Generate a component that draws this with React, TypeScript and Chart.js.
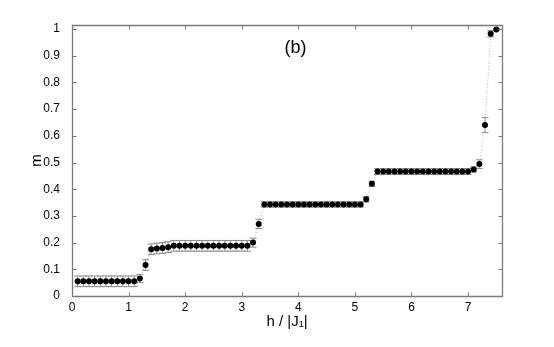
import React, { useEffect, useRef } from "react";
import { Chart, registerables } from "chart.js";

Chart.register(...registerables);

// h / |J1| values (x)
const hValues = [
  0.1, 0.2, 0.3, 0.4, 0.5, 0.6, 0.7, 0.8, 0.9, 1.0,
  1.1, 1.2, 1.3, 1.4, 1.5, 1.6, 1.7, 1.8, 1.9, 2.0,
  2.1, 2.2, 2.3, 2.4, 2.5, 2.6, 2.7, 2.8, 2.9, 3.0,
  3.1, 3.2, 3.3, 3.4, 3.5, 3.6, 3.7, 3.8, 3.9, 4.0,
  4.1, 4.2, 4.3, 4.4, 4.5, 4.6, 4.7, 4.8, 4.9, 5.0,
  5.1, 5.2, 5.3, 5.4, 5.5, 5.6, 5.7, 5.8, 5.9, 6.0,
  6.1, 6.2, 6.3, 6.4, 6.5, 6.6, 6.7, 6.8, 6.9, 7.0,
  7.1, 7.2, 7.3, 7.4, 7.5,
];

// magnetization m
const mValues = [
  0.055, 0.055, 0.055, 0.055, 0.055, 0.055, 0.055, 0.055, 0.055, 0.055,
  0.055, 0.066, 0.116, 0.175, 0.178, 0.180, 0.183, 0.188, 0.188, 0.188,
  0.188, 0.188, 0.188, 0.188, 0.188, 0.188, 0.188, 0.188, 0.188, 0.188,
  0.188, 0.200, 0.270, 0.343, 0.343, 0.343, 0.343, 0.343, 0.343, 0.343,
  0.343, 0.343, 0.343, 0.343, 0.343, 0.343, 0.343, 0.343, 0.343, 0.343,
  0.343, 0.362, 0.420, 0.466, 0.466, 0.466, 0.466, 0.466, 0.466, 0.466,
  0.466, 0.466, 0.466, 0.466, 0.466, 0.466, 0.466, 0.466, 0.466, 0.466,
  0.474, 0.494, 0.640, 0.982, 0.998,
];

// error bar half-heights
const mErrors = [
  0.02, 0.02, 0.02, 0.02, 0.02, 0.02, 0.02, 0.02, 0.02, 0.02,
  0.02, 0.015, 0.02, 0.02, 0.02, 0.02, 0.02, 0.02, 0.02, 0.02,
  0.02, 0.02, 0.02, 0.02, 0.02, 0.02, 0.02, 0.02, 0.02, 0.02,
  0.02, 0.017, 0.017, 0.01, 0.01, 0.01, 0.01, 0.01, 0.01, 0.01,
  0.01, 0.01, 0.01, 0.01, 0.01, 0.01, 0.01, 0.01, 0.01, 0.01,
  0.01, 0.01, 0.01, 0.011, 0.011, 0.011, 0.011, 0.011, 0.011, 0.011,
  0.011, 0.011, 0.011, 0.011, 0.011, 0.011, 0.011, 0.011, 0.011, 0.011,
  0.01, 0.016, 0.028, 0.012, 0.004,
];

const xTicks = [0, 1, 2, 3, 4, 5, 6, 7];
const yTicks = [0, 0.1, 0.2, 0.3, 0.4, 0.5, 0.6, 0.7, 0.8, 0.9, 1];
const yTickLabels = ["0", "0.1", "0.2", "0.3", "0.4", "0.5", "0.6", "0.7", "0.8", "0.9", "1"];

const xRange = [0, 7.6];
const yRange = [0, 1.015];

const panelLabel = { text: "(b)", h: 3.95, m: 0.93 };

const FONT = "'Liberation Sans', Arial, Helvetica, sans-serif";
const AXIS_GRAY = "#7a7a7a";

const errorBarPlugin = {
  id: "errorBars",
  beforeDatasetsDraw(chart: any) {
    const { ctx } = chart;
    const x = chart.scales.x;
    const y = chart.scales.y;
    const cap = 3.5;
    ctx.save();
    ctx.setLineDash([]);
    ctx.strokeStyle = "#8a8a8a";
    ctx.lineWidth = 1;
    hValues.forEach((h, i) => {
      const px = x.getPixelForValue(h);
      const top = y.getPixelForValue(mValues[i] + mErrors[i]);
      const bot = y.getPixelForValue(mValues[i] - mErrors[i]);
      ctx.beginPath();
      ctx.moveTo(px, top);
      ctx.lineTo(px, bot);
      ctx.moveTo(px - cap, top);
      ctx.lineTo(px + cap, top);
      ctx.moveTo(px - cap, bot);
      ctx.lineTo(px + cap, bot);
      ctx.stroke();
    });
    ctx.restore();
  },
};

const framePlugin = {
  id: "frame",
  afterDraw(chart: any) {
    const { ctx, chartArea } = chart;
    const x = chart.scales.x;
    const y = chart.scales.y;
    const { left, right, top, bottom } = chartArea;
    const tl = 4;
    ctx.save();
    ctx.setLineDash([]);
    ctx.globalAlpha = 1;
    ctx.strokeStyle = AXIS_GRAY;
    ctx.lineWidth = 1.3;
    const L = Math.round(left) + 0.5;
    const R = Math.round(right) + 0.5;
    const T = Math.round(top) + 0.5;
    const B = Math.round(bottom) + 0.5;
    ctx.beginPath();
    ctx.moveTo(L, T);
    ctx.lineTo(R, T);
    ctx.lineTo(R, B);
    ctx.lineTo(L, B);
    ctx.closePath();
    ctx.stroke();
    ctx.lineWidth = 1;
    ctx.beginPath();
    xTicks.forEach((t) => {
      const px = Math.round(x.getPixelForValue(t)) + 0.5;
      ctx.moveTo(px, B);
      ctx.lineTo(px, B - tl);
      ctx.moveTo(px, T);
      ctx.lineTo(px, T + tl);
    });
    yTicks.forEach((t) => {
      const py = Math.round(y.getPixelForValue(t)) + 0.5;
      ctx.moveTo(L, py);
      ctx.lineTo(L + tl, py);
      ctx.moveTo(R, py);
      ctx.lineTo(R - tl, py);
    });
    ctx.stroke();
    // panel label
    ctx.fillStyle = "#000";
    ctx.font = `18px ${FONT}`;
    ctx.textAlign = "center";
    ctx.textBaseline = "middle";
    ctx.fillText(panelLabel.text, x.getPixelForValue(panelLabel.h), y.getPixelForValue(panelLabel.m));
    ctx.restore();
  },
};

export default function App() {
  const ref = useRef<HTMLCanvasElement | null>(null);
  useEffect(() => {
    if (!ref.current) return;
    const chart = new Chart(ref.current, {
      type: "line",
      data: {
        datasets: [
          {
            data: hValues.map((h, i) => ({ x: h, y: mValues[i] })),
            borderColor: "#b0b0b0",
            borderWidth: 1,
            borderDash: [1, 2],
            pointRadius: 3,
            pointBackgroundColor: "#000",
            pointBorderColor: "#000",
            pointBorderWidth: 0,
            fill: false,
            tension: 0,
          },
        ],
      },
      options: {
        responsive: false,
        animation: false,
        layout: { padding: { top: 25, right: 52, left: 0, bottom: 0 } },
        plugins: { legend: { display: false }, tooltip: { enabled: false } },
        scales: {
          x: {
            type: "linear",
            min: xRange[0],
            max: xRange[1],
            afterBuildTicks: (s: any) => {
              s.ticks = xTicks.map((v) => ({ value: v }));
            },
            afterFit: (s: any) => {
              s.height = 51;
            },
            grid: { display: false },
            border: { display: false },
            ticks: {
              color: "#000",
              font: { size: 12, family: FONT },
              padding: -4,
              maxRotation: 0,
              callback: (v: any) => String(v),
            },
            title: {
              display: true,
              text: "h / |J₁|",
              color: "#000",
              font: { size: 15, family: FONT },
              padding: { top: 0, bottom: 16 },
            },
          },
          y: {
            type: "linear",
            min: yRange[0],
            max: yRange[1],
            afterBuildTicks: (s: any) => {
              s.ticks = yTicks.map((v) => ({ value: v }));
            },
            afterFit: (s: any) => {
              s.width = 72;
            },
            grid: { display: false },
            border: { display: false },
            ticks: {
              color: "#000",
              font: { size: 12, family: FONT },
              padding: 4,
              callback: (v: any) => {
                const i = yTicks.findIndex((t) => Math.abs(t - v) < 1e-9);
                return i >= 0 ? yTickLabels[i] : "";
              },
            },
            title: {
              display: true,
              text: "m",
              color: "#000",
              font: { size: 15, family: FONT },
              padding: { top: 28, bottom: 0 },
            },
          },
        },
      },
      plugins: [errorBarPlugin, framePlugin],
    });
    return () => chart.destroy();
  }, []);
  return (
    <div style={{ position: "fixed", left: 0, top: 0, width: 554, height: 347, background: "#fff" }}>
      <canvas ref={ref} width={554} height={347} />
    </div>
  );
}
